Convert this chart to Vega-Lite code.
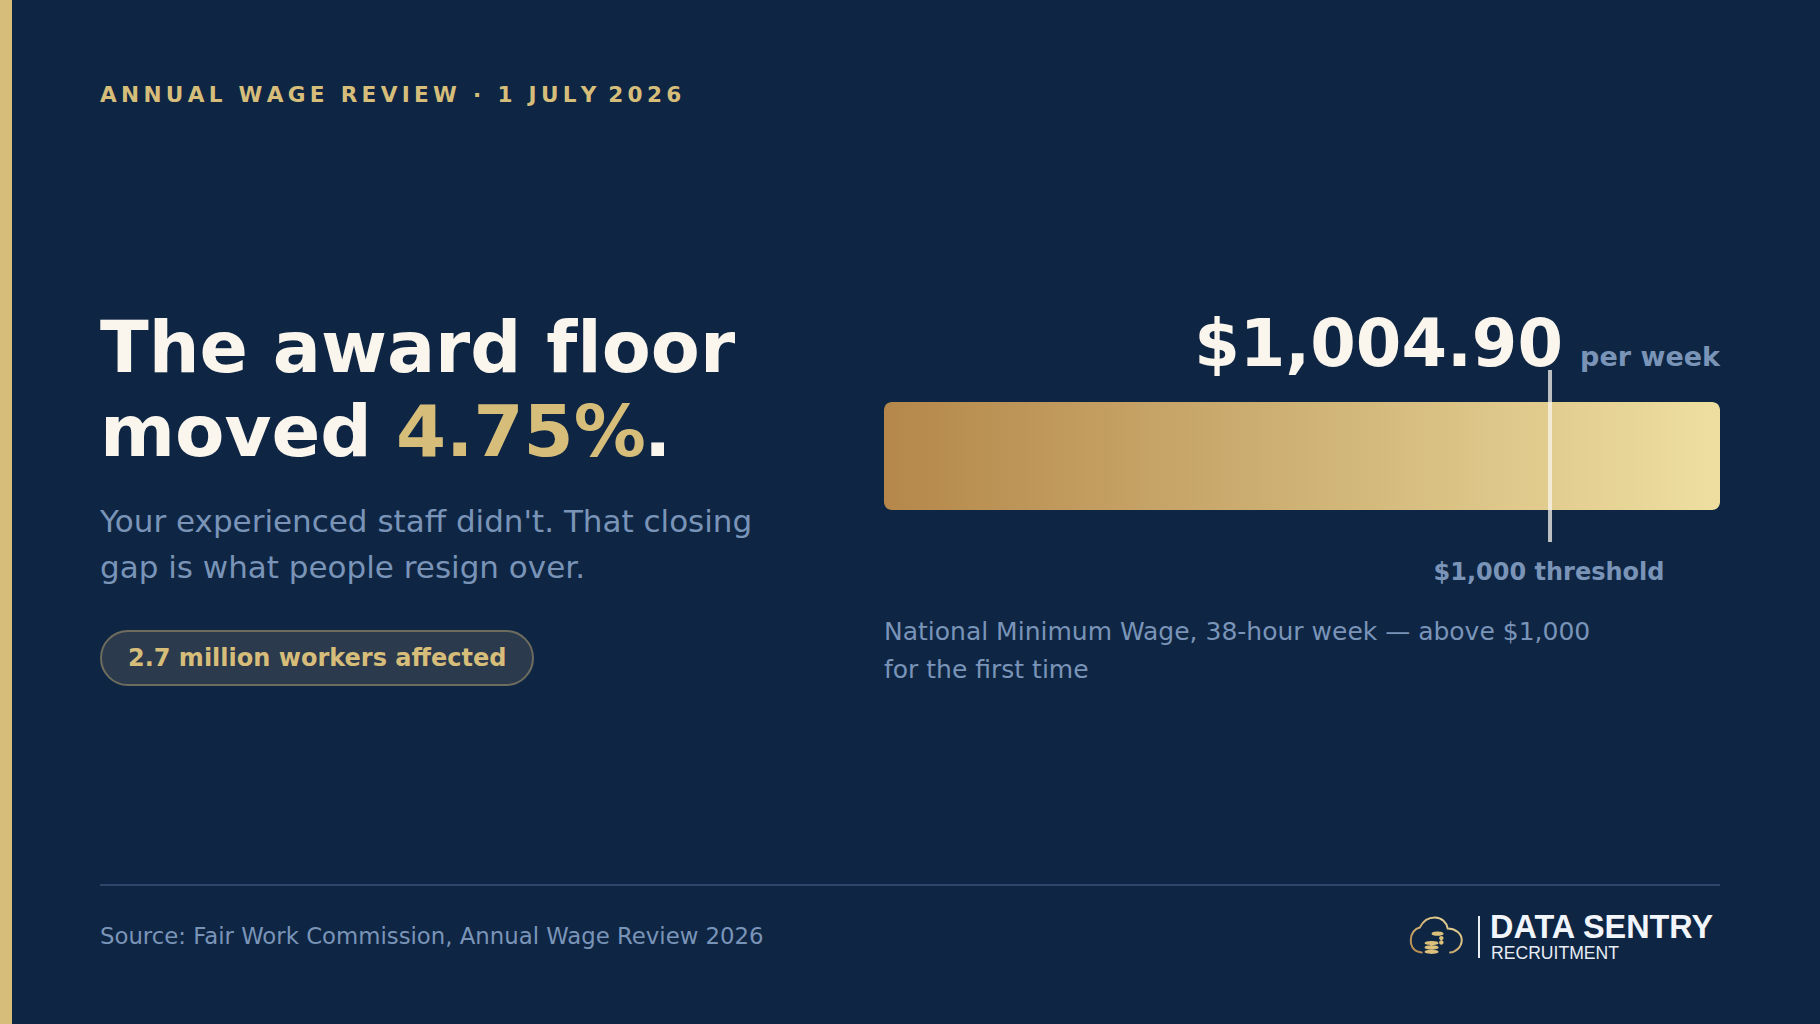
{
  "$schema": "https://vega.github.io/schema/vega-lite/v6.json",
  "width": 1820,
  "height": 1024,
  "autosize": {"type": "none"},
  "padding": 0,
  "background": "#0E2644",
  "view": {"stroke": null},
  "resolve": {"scale": {"x": "independent", "y": "independent"}},
  "layer": [
    {
      "data": {"values": [{"part": "accent stripe"}]},
      "mark": {"type": "rect", "color": "#D6BE7A"},
      "encoding": {
        "x": {"datum": "from", "type": "nominal", "scale": {"type": "point", "domain": ["from", "to"], "range": [0, 12], "padding": 0}, "axis": null},
        "x2": {"datum": "to"},
        "y": {"datum": "top", "type": "nominal", "scale": {"type": "point", "domain": ["top", "bottom"], "range": [0, 1024], "padding": 0}, "axis": null},
        "y2": {"datum": "bottom"}
      }
    },
    {
      "data": {"values": [{"label": "A\u2009N\u2009N\u2009U\u2009A\u2009L\u2009 \u2009W\u2009A\u2009G\u2009E\u2009 \u2009R\u2009E\u2009V\u2009I\u2009E\u2009W\u2009 \u2009·\u2009 \u20091\u2009 \u2009J\u2009U\u2009L\u2009Y\u200a \u200a2\u20090\u20092\u20096", "slot": "left", "row": "kicker"}]},
      "mark": {"type": "text", "font": "DejaVu Sans", "fontSize": 21.6, "fontWeight": "bold", "align": "left", "baseline": "alphabetic", "color": "#D6BE7A"},
      "encoding": {
        "x": {"field": "slot", "type": "nominal", "scale": {"type": "point", "domain": ["left"], "range": [100, 100], "padding": 0}, "axis": null},
        "y": {"field": "row", "type": "nominal", "scale": {"type": "point", "domain": ["kicker"], "range": [102, 102], "padding": 0}, "axis": null},
        "text": {"field": "label"}
      }
    },
    {
      "data": {"values": [{"label": "The award f\u200cloor", "slot": "left", "row": "first"}]},
      "mark": {"type": "text", "font": "DejaVu Sans", "fontSize": 71.4, "fontWeight": "bold", "align": "left", "baseline": "alphabetic", "color": "#FAF6EE"},
      "encoding": {
        "x": {"field": "slot", "type": "nominal", "scale": {"type": "point", "domain": ["left"], "range": [100, 100], "padding": 0}, "axis": null},
        "y": {"field": "row", "type": "nominal", "scale": {"type": "point", "domain": ["first"], "range": [372, 372], "padding": 0}, "axis": null},
        "text": {"field": "label"}
      }
    },
    {
      "data": {"values": [
        {"label": "moved", "slot": "left", "row": "second"},
        {"label": ".", "slot": "stop", "row": "second"}
      ]},
      "mark": {"type": "text", "font": "DejaVu Sans", "fontSize": 72, "fontWeight": "bold", "align": "left", "baseline": "alphabetic", "color": "#FAF6EE"},
      "encoding": {
        "x": {"field": "slot", "type": "nominal", "scale": {"type": "point", "domain": ["left", "stop"], "range": [100, 644], "padding": 0}, "axis": null},
        "y": {"field": "row", "type": "nominal", "scale": {"type": "point", "domain": ["second"], "range": [456, 456], "padding": 0}, "axis": null},
        "text": {"field": "label"}
      }
    },
    {
      "data": {"values": [{"label": "4.75%", "slot": "left", "row": "second"}]},
      "mark": {"type": "text", "font": "DejaVu Sans", "fontSize": 72, "fontWeight": "bold", "align": "left", "baseline": "alphabetic", "color": "#D6BE7A"},
      "encoding": {
        "x": {"field": "slot", "type": "nominal", "scale": {"type": "point", "domain": ["left"], "range": [396, 396], "padding": 0}, "axis": null},
        "y": {"field": "row", "type": "nominal", "scale": {"type": "point", "domain": ["second"], "range": [456, 456], "padding": 0}, "axis": null},
        "text": {"field": "label"}
      }
    },
    {
      "data": {"values": [
        {"label": "Your experienced staff didn't. That closing", "slot": "left", "row": "first"},
        {"label": "gap is what people resign over.", "slot": "left", "row": "second"}
      ]},
      "mark": {"type": "text", "font": "DejaVu Sans", "fontSize": 31, "align": "left", "baseline": "alphabetic", "color": "#7A94B8"},
      "encoding": {
        "x": {"field": "slot", "type": "nominal", "scale": {"type": "point", "domain": ["left"], "range": [100, 100], "padding": 0}, "axis": null},
        "y": {"field": "row", "type": "nominal", "scale": {"type": "point", "domain": ["first", "second"], "range": [532, 578], "padding": 0}, "axis": null},
        "text": {"field": "label"}
      }
    },
    {
      "data": {"values": [{"part": "pill"}]},
      "mark": {"type": "rect", "fill": "#2C3A4D", "stroke": "#6E6C5E", "strokeWidth": 2, "cornerRadius": 27},
      "encoding": {
        "x": {"datum": "from", "type": "nominal", "scale": {"type": "point", "domain": ["from", "to"], "range": [101, 533], "padding": 0}, "axis": null},
        "x2": {"datum": "to"},
        "y": {"datum": "top", "type": "nominal", "scale": {"type": "point", "domain": ["top", "bottom"], "range": [631, 685], "padding": 0}, "axis": null},
        "y2": {"datum": "bottom"}
      }
    },
    {
      "data": {"values": [{"label": "2.7 million workers affected", "slot": "left", "row": "pill"}]},
      "mark": {"type": "text", "font": "DejaVu Sans", "fontSize": 24, "fontWeight": "bold", "align": "left", "baseline": "alphabetic", "color": "#D6BE7A"},
      "encoding": {
        "x": {"field": "slot", "type": "nominal", "scale": {"type": "point", "domain": ["left"], "range": [128, 128], "padding": 0}, "axis": null},
        "y": {"field": "row", "type": "nominal", "scale": {"type": "point", "domain": ["pill"], "range": [666, 666], "padding": 0}, "axis": null},
        "text": {"field": "label"}
      }
    },
    {
      "data": {"values": [{"measure": "National Minimum Wage", "wage": 1004.9}]},
      "mark": {
        "type": "rect",
        "cornerRadius": 8,
        "fill": {
          "gradient": "linear",
          "x1": 0, "y1": 0, "x2": 1, "y2": 0,
          "stops": [
            {"offset": 0, "color": "#B5874A"},
            {"offset": 0.5, "color": "#CFB276"},
            {"offset": 1, "color": "#EEDFA0"}
          ]
        }
      },
      "encoding": {
        "x": {"field": "wage", "type": "quantitative", "scale": {"domain": [980.8, 1004.9], "range": [884, 1720], "zero": false}, "axis": null},
        "x2": {"datum": 980.8},
        "y": {"datum": "top", "type": "nominal", "scale": {"type": "point", "domain": ["top", "bottom"], "range": [402, 510], "padding": 0}, "axis": null},
        "y2": {"datum": "bottom"}
      }
    },
    {
      "data": {"values": [{"label": "$1,000 threshold", "threshold": 1000}]},
      "mark": {"type": "rule", "color": "#F8F4EC", "opacity": 0.75, "strokeWidth": 4},
      "encoding": {
        "x": {"field": "threshold", "type": "quantitative", "scale": {"domain": [980.8, 1004.9], "range": [884, 1720], "zero": false}, "axis": null},
        "y": {"datum": "top", "type": "nominal", "scale": {"type": "point", "domain": ["top", "bottom"], "range": [370, 542], "padding": 0}, "axis": null},
        "y2": {"datum": "bottom"}
      }
    },
    {
      "data": {"values": [{"label": "$1,000 threshold", "threshold": 1000, "row": "label"}]},
      "mark": {"type": "text", "font": "DejaVu Sans", "fontSize": 24, "fontWeight": "bold", "align": "center", "baseline": "alphabetic", "dx": -1, "color": "#7A94B8"},
      "encoding": {
        "x": {"field": "threshold", "type": "quantitative", "scale": {"domain": [980.8, 1004.9], "range": [884, 1720], "zero": false}, "axis": null},
        "y": {"field": "row", "type": "nominal", "scale": {"type": "point", "domain": ["label"], "range": [580, 580], "padding": 0}, "axis": null},
        "text": {"field": "label"}
      }
    },
    {
      "data": {"values": [{"wage": 1004.9, "row": "value"}]},
      "mark": {"type": "text", "font": "DejaVu Sans", "fontSize": 65.5, "fontWeight": "bold", "align": "right", "baseline": "alphabetic", "dx": -157, "color": "#FAF6EE"},
      "encoding": {
        "x": {"field": "wage", "type": "quantitative", "scale": {"domain": [980.8, 1004.9], "range": [884, 1720], "zero": false}, "axis": null},
        "y": {"field": "row", "type": "nominal", "scale": {"type": "point", "domain": ["value"], "range": [366, 366], "padding": 0}, "axis": null},
        "text": {"field": "wage", "type": "quantitative", "format": "$,.2f"}
      }
    },
    {
      "data": {"values": [{"label": "per week", "wage": 1004.9, "row": "value"}]},
      "mark": {"type": "text", "font": "DejaVu Sans", "fontSize": 27, "fontWeight": "bold", "align": "right", "baseline": "alphabetic", "color": "#7A94B8"},
      "encoding": {
        "x": {"field": "wage", "type": "quantitative", "scale": {"domain": [980.8, 1004.9], "range": [884, 1720], "zero": false}, "axis": null},
        "y": {"field": "row", "type": "nominal", "scale": {"type": "point", "domain": ["value"], "range": [366, 366], "padding": 0}, "axis": null},
        "text": {"field": "label"}
      }
    },
    {
      "data": {"values": [
        {"label": "National Minimum Wage, 38-hour week — above $1,000", "slot": "note", "row": "first"},
        {"label": "for the first time", "slot": "note", "row": "second"}
      ]},
      "mark": {"type": "text", "font": "DejaVu Sans", "fontSize": 25, "align": "left", "baseline": "alphabetic", "color": "#7A94B8"},
      "encoding": {
        "x": {"field": "slot", "type": "nominal", "scale": {"type": "point", "domain": ["note"], "range": [884, 884], "padding": 0}, "axis": null},
        "y": {"field": "row", "type": "nominal", "scale": {"type": "point", "domain": ["first", "second"], "range": [640, 678], "padding": 0}, "axis": null},
        "text": {"field": "label"}
      }
    },
    {
      "data": {"values": [{"part": "footer rule"}]},
      "mark": {"type": "rule", "color": "#2F466A", "strokeWidth": 2},
      "encoding": {
        "x": {"datum": "from", "type": "nominal", "scale": {"type": "point", "domain": ["from", "to"], "range": [100, 1720], "padding": 0}, "axis": null},
        "x2": {"datum": "to"},
        "y": {"datum": "rule", "type": "nominal", "scale": {"type": "point", "domain": ["rule"], "range": [885, 885], "padding": 0}, "axis": null}
      }
    },
    {
      "data": {"values": [{"label": "Source: Fair Work Commission, Annual Wage Review 2026", "slot": "left", "row": "footer"}]},
      "mark": {"type": "text", "font": "DejaVu Sans", "fontSize": 22.8, "align": "left", "baseline": "alphabetic", "color": "#7A94B8"},
      "encoding": {
        "x": {"field": "slot", "type": "nominal", "scale": {"type": "point", "domain": ["left"], "range": [100, 100], "padding": 0}, "axis": null},
        "y": {"field": "row", "type": "nominal", "scale": {"type": "point", "domain": ["footer"], "range": [944, 944], "padding": 0}, "axis": null},
        "text": {"field": "label"}
      }
    },
    {
      "data": {"values": [{"part": "cloud"}]},
      "mark": {
        "type": "point",
        "filled": false,
        "size": 2704,
        "opacity": 1,
        "strokeWidth": 2,
        "strokeCap": "round",
        "shape": "M-.55 .63C-.81 .63 -.97 .44 -.97 .15C-.97 -.10 -.81 -.29 -.62 -.33C-.51 -.55 -.31 -.71 -.04 -.71C.22 -.71 .41 -.51 .45 -.29C.73 -.29 .99 -.10 .99 .15C.99 .44 .73 .63 .54 .63",
        "stroke": {
          "gradient": "linear",
          "x1": 0, "y1": 1, "x2": 1, "y2": 0,
          "stops": [
            {"offset": 0, "color": "#B5874A"},
            {"offset": 1, "color": "#EEDFA2"}
          ]
        }
      },
      "encoding": {
        "x": {"field": "part", "type": "nominal", "scale": {"type": "point", "domain": ["cloud"], "range": [1436, 1436], "padding": 0}, "axis": null},
        "y": {"field": "part", "type": "nominal", "scale": {"type": "point", "domain": ["cloud"], "range": [936, 936], "padding": 0}, "axis": null}
      }
    },
    {
      "data": {"values": [{"part": "coins"}]},
      "mark": {
        "type": "point",
        "filled": true,
        "size": 2704,
        "opacity": 1,
        "shape": "M-.44 .27C-.44 .16 .10 .16 .10 .27C.10 .38 -.44 .38 -.44 .27ZM-.44 .44C-.44 .33 .10 .33 .10 .44C.10 .55 -.44 .55 -.44 .44ZM-.44 .61C-.44 .50 .10 .50 .10 .61C.10 .72 -.44 .72 -.44 .61ZM-.17 -.09C-.17 -.20 .29 -.20 .29 -.09C.29 .02 -.17 .02 -.17 -.09ZM.12 .08C.12 -.03 .29 -.03 .29 .08C.29 .19 .12 .19 .12 .08ZM.12 .25C.12 .14 .29 .14 .29 .25C.29 .36 .12 .36 .12 .25Z",
        "fill": "#DDBF7C"
      },
      "encoding": {
        "x": {"field": "part", "type": "nominal", "scale": {"type": "point", "domain": ["coins"], "range": [1436, 1436], "padding": 0}, "axis": null},
        "y": {"field": "part", "type": "nominal", "scale": {"type": "point", "domain": ["coins"], "range": [936, 936], "padding": 0}, "axis": null}
      }
    },
    {
      "data": {"values": [{"part": "logo divider"}]},
      "mark": {"type": "rule", "color": "#E8EDF4", "strokeWidth": 2},
      "encoding": {
        "x": {"field": "part", "type": "nominal", "scale": {"type": "point", "domain": ["logo divider"], "range": [1479, 1479], "padding": 0}, "axis": null},
        "y": {"datum": "top", "type": "nominal", "scale": {"type": "point", "domain": ["top", "bottom"], "range": [916, 958], "padding": 0}, "axis": null},
        "y2": {"datum": "bottom"}
      }
    },
    {
      "data": {"values": [{"label": "DATA SENTRY", "slot": "logo", "row": "name"}]},
      "mark": {"type": "text", "font": "Liberation Sans", "fontSize": 32.4, "fontWeight": "bold", "align": "left", "baseline": "alphabetic", "color": "#F2F5FA"},
      "encoding": {
        "x": {"field": "slot", "type": "nominal", "scale": {"type": "point", "domain": ["logo"], "range": [1490, 1490], "padding": 0}, "axis": null},
        "y": {"field": "row", "type": "nominal", "scale": {"type": "point", "domain": ["name"], "range": [938, 938], "padding": 0}, "axis": null},
        "text": {"field": "label"}
      }
    },
    {
      "data": {"values": [{"label": "RECRUITMENT", "slot": "logo", "row": "tag"}]},
      "mark": {"type": "text", "font": "Liberation Sans", "fontSize": 17.6, "align": "left", "baseline": "alphabetic", "color": "#E8EDF4"},
      "encoding": {
        "x": {"field": "slot", "type": "nominal", "scale": {"type": "point", "domain": ["logo"], "range": [1491, 1491], "padding": 0}, "axis": null},
        "y": {"field": "row", "type": "nominal", "scale": {"type": "point", "domain": ["tag"], "range": [959, 959], "padding": 0}, "axis": null},
        "text": {"field": "label"}
      }
    }
  ]
}
